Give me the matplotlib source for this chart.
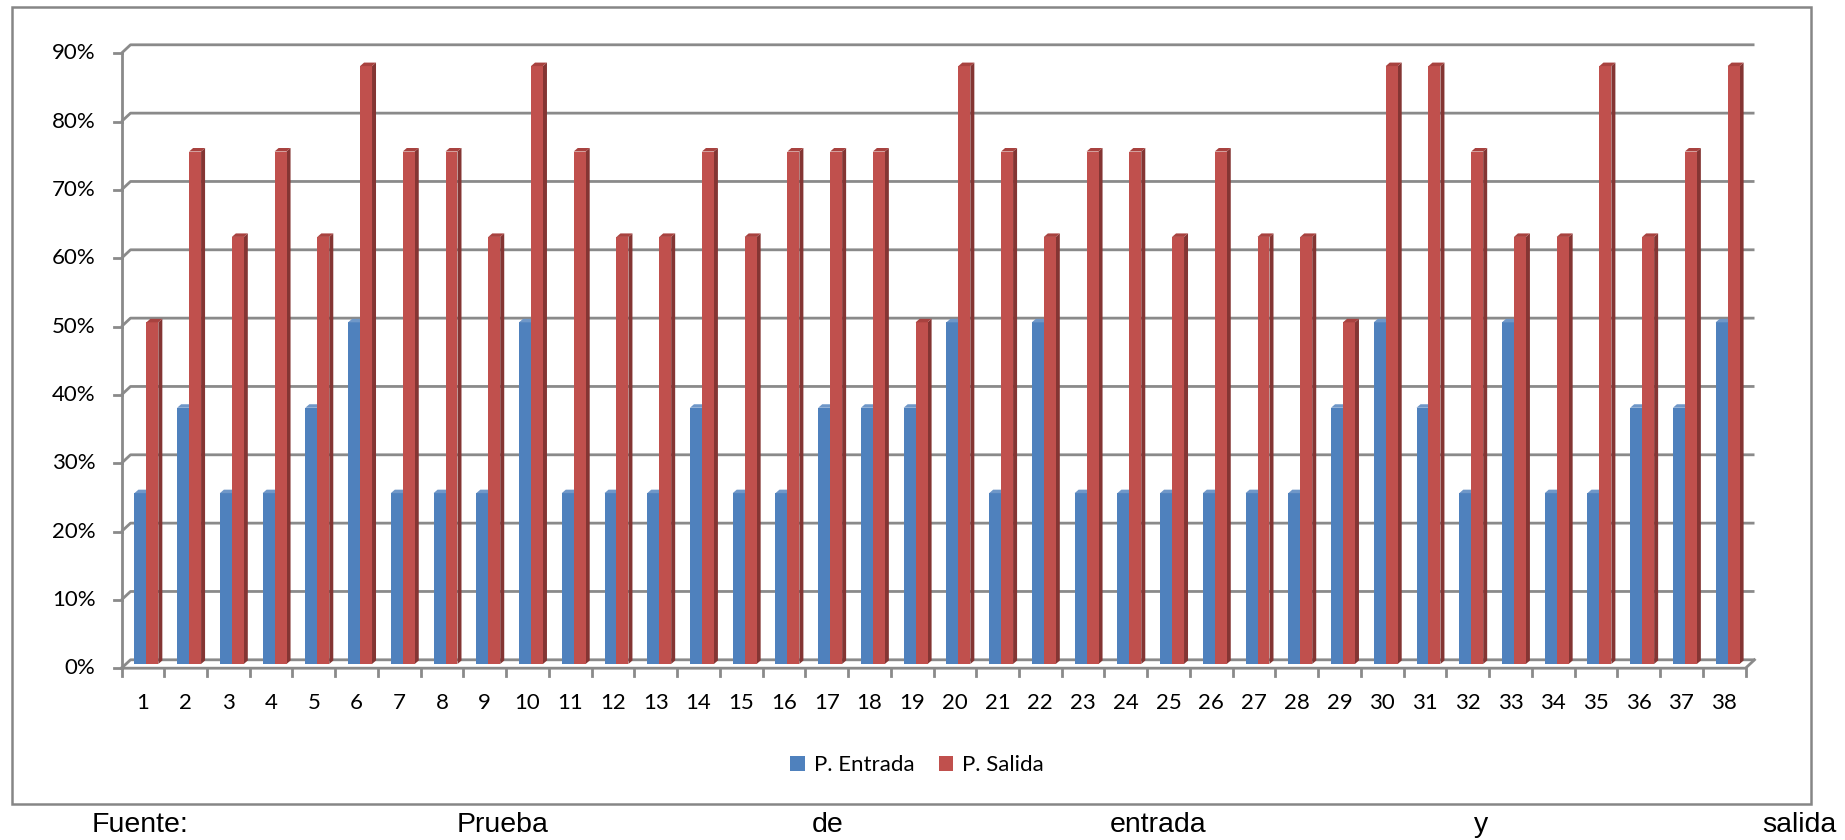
import matplotlib
matplotlib.use("Agg")
import matplotlib.pyplot as plt
from matplotlib.patches import Polygon, Rectangle, Patch

# Series data (percent of correct answers per student)
students = [str(i) for i in range(1, 39)]
entrada = [25, 37.5, 25, 25, 37.5, 50, 25, 25, 25, 50,
           25, 25, 25, 37.5, 25, 25, 37.5, 37.5, 37.5, 50,
           25, 50, 25, 25, 25, 25, 25, 25, 37.5, 50,
           37.5, 25, 50, 25, 25, 37.5, 37.5, 50]
salida = [50, 75, 62.5, 75, 62.5, 87.5, 75, 75, 62.5, 87.5,
          75, 62.5, 62.5, 75, 62.5, 75, 75, 75, 50, 87.5,
          75, 62.5, 75, 75, 62.5, 75, 62.5, 62.5, 50, 87.5,
          87.5, 75, 62.5, 62.5, 87.5, 62.5, 75, 87.5]
y_ticks = [0, 10, 20, 30, 40, 50, 60, 70, 80, 90]
series_names = ["P. Entrada", "P. Salida"]
source_words = ["Fuente:", "Prueba", "de", "entrada", "y", "salida"]

W, H = 1845, 840
fig = plt.figure(figsize=(W / 100, H / 100), dpi=100)
fig.patch.set_facecolor("white")

# axes placed at mid-depth of the pseudo-3D box
left_px, right_px = 126, 1750
y0_px, y90_px = 664, 49
ax = fig.add_axes([left_px / W, 1 - y0_px / H,
                   (right_px - left_px) / W, (y0_px - y90_px) / H])
n = len(students)
ax.set_xlim(0.5, n + 0.5)
ax.set_ylim(0, 90)
ax.axis("off")

px_x = (right_px - left_px) / n        # pixels per category
px_y = (y0_px - y90_px) / 90.0         # pixels per percent


def dx(p):
    return p / px_x


def dy(p):
    return p / px_y


grid_c = "#8a8a8a"
tick_font = {"family": "Lato", "size": 16}
# half depth of the wall box
hx, hy = dx(4.5), dy(4.2)
x_lo, x_hi = 0.5, n + 0.5

# back-wall gridlines with a diagonal from the front axis
for v in y_ticks:
    ax.plot([x_lo - hx, x_lo + hx, x_hi + hx], [v - hy, v + hy, v + hy],
            color=grid_c, lw=2, clip_on=False, zorder=1, solid_capstyle="butt")
    ax.plot([x_lo - hx - dx(8), x_lo - hx], [v - hy, v - hy],
            color=grid_c, lw=2, clip_on=False, zorder=1)
    ax.text(x_lo - hx - dx(26), v - hy, f"{v}%", ha="right", va="center",
            color="black", **tick_font)

# front vertical axis and floor
ax.plot([x_lo - hx, x_lo - hx], [-hy, 90 - hy], color=grid_c, lw=2,
        clip_on=False, zorder=1)
ax.plot([x_lo - hx, x_hi - hx, x_hi + hx], [-hy, -hy, hy], color=grid_c,
        lw=2, clip_on=False, zorder=1)
for k in range(n + 1):
    xk = x_lo + k - hx
    ax.plot([xk, xk], [-hy, -hy - dy(8)], color=grid_c, lw=2,
            clip_on=False, zorder=1)

for i, lab in enumerate(students):
    ax.text(i + 1 - hx, -hy - dy(35), lab, ha="center", va="center",
            color="black", **tick_font)

# bars with side and top faces
bw = 0.28
bdx, bdy = dx(4), dy(3.5)
styles = [("#4F81BD", "#36608F", "#6F97C8"),
          ("#C0504D", "#843533", "#A8423F")]
for s, vals in enumerate([entrada, salida]):
    front, side, top = styles[s]
    xs = [i + 1 - bw + s * bw - dx(1) for i in range(n)]
    ax.bar(xs, vals, width=bw, align="edge", color=front, zorder=3 + s,
           linewidth=0, clip_on=False)
    for x, v in zip(xs, vals):
        xr = x + bw
        ax.add_patch(Polygon([(xr, 0), (xr, v), (xr + bdx, v + bdy),
                              (xr + bdx, bdy)], closed=True, facecolor=side,
                             edgecolor="none", zorder=2 + s, clip_on=False))
        ax.add_patch(Polygon([(x, v), (xr, v), (xr + bdx, v + bdy),
                              (x + bdx, v + bdy)], closed=True, facecolor=top,
                             edgecolor="none", zorder=3 + s, clip_on=False))

# legend
handles = [Patch(facecolor=styles[0][0]), Patch(facecolor=styles[1][0])]
fig.legend(handles, series_names, loc="center", ncol=2,
           bbox_to_anchor=(917 / W, 1 - 765 / H), frameon=False,
           prop={"family": "Lato", "size": 16}, handlelength=0.65,
           handleheight=0.65, handletextpad=0.4, columnspacing=1.1)

# outer chart border
fig.add_artist(Rectangle((12 / W, 1 - 804 / H), (1811 - 12) / W,
                         (804 - 7) / H, transform=fig.transFigure,
                         fill=False, edgecolor="#868686", lw=1.8))

# justified source line
word_x = [92, 457, 812, 1110, 1474, 1836]
for j, (w, xp) in enumerate(zip(source_words, word_x)):
    ha = "right" if j == len(source_words) - 1 else "left"
    fig.text(xp / W, 1 - 832 / H, w, ha=ha, va="baseline",
             fontsize=20.5, family="Liberation Sans", color="black")

fig.savefig("out.png", dpi=100, facecolor="white")
